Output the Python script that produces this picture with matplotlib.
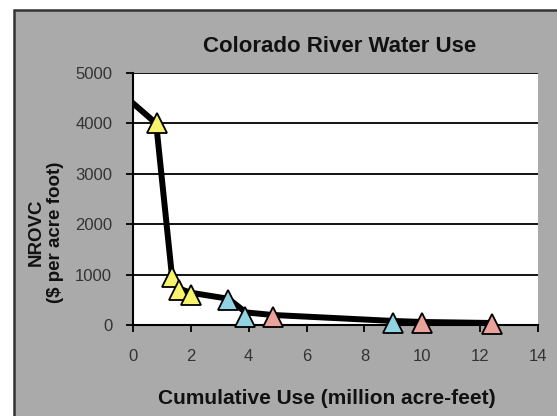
import matplotlib
matplotlib.use("Agg")
import matplotlib.pyplot as plt
from matplotlib.patches import Rectangle

# curve (NROVC vs cumulative use)
line_x = [0, 0.8, 1.35, 1.6, 2.0, 3.3, 3.9, 4.8, 9.0, 10.0, 12.4]
line_y = [4400, 4000, 950, 720, 640, 520, 250, 200, 80, 60, 40]

# triangle markers by group
yellow_x = [0.83, 1.35, 1.6, 2.0]
yellow_y = [4000, 950, 700, 600]
blue_x = [3.3, 3.88, 9.0]
blue_y = [500, 160, 40]
pink_x = [4.83, 10.0, 12.4]
pink_y = [150, 40, 20]

xticks = [0, 2, 4, 6, 8, 10, 12, 14]
yticks = [0, 1000, 2000, 3000, 4000, 5000]

plt.rcParams['font.family'] = ['Liberation Sans', 'DejaVu Sans']

fig = plt.figure(figsize=(5.57, 4.16), dpi=100)
fig.patch.set_facecolor('white')

# grey chart area with dark border
bg = Rectangle((14 / 557, -0.1), 1.2, 1 - 10 / 416 + 0.1, transform=fig.transFigure,
               facecolor='#aaaaaa', edgecolor='#333333', linewidth=1.8, zorder=-10)
fig.patches.append(bg)

ax = fig.add_axes([133 / 557, 1 - 325 / 416, (538 - 133) / 557, (325 - 73) / 416])
ax.set_facecolor('white')

ax.plot(line_x, line_y, color='black', linewidth=4.3, solid_joinstyle='round', zorder=3)

mk = dict(marker='^', markersize=14, markeredgecolor='black', markeredgewidth=1.3,
          linestyle='none', zorder=4, clip_on=False)
ax.plot(yellow_x, yellow_y, markerfacecolor='#f7f36c', **mk)
ax.plot(blue_x, blue_y, markerfacecolor='#92d3e3', **mk)
ax.plot(pink_x, pink_y, markerfacecolor='#e9a29c', **mk)

ax.set_xlim(0, 14)
ax.set_ylim(0, 5000)
ax.set_xticks(xticks)
ax.set_yticks(yticks)
ax.grid(axis='y', color='black', linewidth=1.3)
ax.set_axisbelow(True)

for s in ['top', 'right']:
    ax.spines[s].set_visible(False)
for s in ['left', 'bottom']:
    ax.spines[s].set_color('black')
    ax.spines[s].set_linewidth(1.5)

ax.tick_params(direction='out', length=5, width=1.3, color='black',
               labelsize=12, labelcolor='#333333')
ax.tick_params(axis='y', pad=10)
ax.tick_params(axis='x', pad=12)

fig.text(340 / 557, 1 - 47 / 416, 'Colorado River Water Use', ha='center', va='center',
         fontsize=16, fontweight='bold', color='#111111')
fig.text(327 / 557, 1 - 398 / 416, 'Cumulative Use (million acre-feet)', ha='center', va='center',
         fontsize=15, fontweight='bold', color='#111111')
fig.text(46 / 557, 1 - 232 / 416, 'NROVC\n($ per acre foot)', ha='center', va='center',
         rotation=90, fontsize=13.5, fontweight='bold', color='#111111', linespacing=1.2)

fig.savefig('out.png', dpi=100)
